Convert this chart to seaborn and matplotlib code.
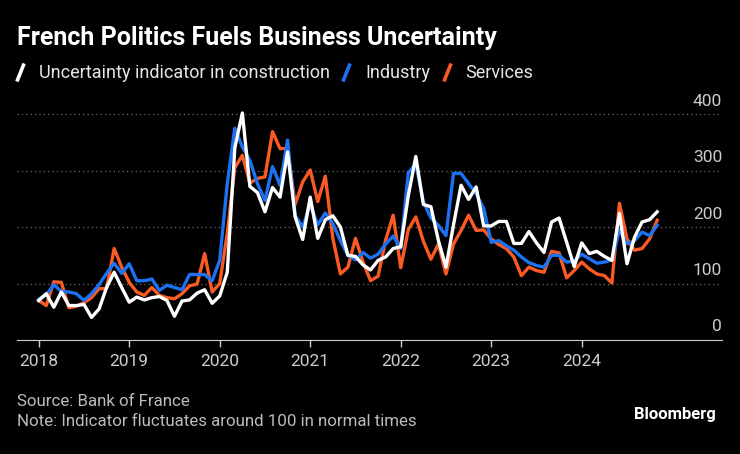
import numpy as np
import pandas as pd
import matplotlib.pyplot as plt
import seaborn as sns
from matplotlib.lines import Line2D
from matplotlib.path import Path
from matplotlib.transforms import ScaledTranslation

# monthly, Jan 2018 -> Nov 2024
months = pd.date_range("2018-01-01", "2024-11-01", freq="MS")

construction = [70, 82, 58, 85, 61, 61, 63, 40, 55, 93, 120, 93,
                67, 76, 71, 75, 77, 70, 42, 69, 71, 83, 89, 65,
                78, 120, 340, 402, 272, 261, 227, 270, 253, 333, 218, 178,
                253, 180, 213, 220, 200, 150, 148, 133, 124, 141, 147, 162,
                165, 255, 325, 240, 236, 176, 129, 204, 274, 249, 271, 202,
                202, 210, 210, 171, 171, 192, 172, 155, 209, 216, 173, 130,
                172, 153, 157, 148, 141, 224, 135, 182, 209, 213, 227]
industry = [72, 80, 98, 86, 85, 82, 70, 82, 98, 118, 136, 118,
            135, 105, 105, 108, 88, 97, 93, 89, 116, 116, 116, 105,
            141, 277, 375, 342, 318, 277, 247, 307, 274, 354, 221, 200,
            240, 204, 225, 206, 176, 150, 142, 155, 145, 152, 170, 184,
            162, 296, 312, 245, 216, 203, 185, 295, 295, 277, 259, 233,
            173, 176, 167, 159, 147, 137, 132, 129, 150, 150, 138, 140,
            152, 144, 136, 138, 142, 195, 170, 176, 191, 185, 203]
services = [70, 61, 103, 102, 57, 60, 66, 75, 91, 91, 162, 129,
            102, 85, 79, 93, 79, 75, 73, 82, 96, 99, 153, 85,
            100, 189, 305, 327, 278, 286, 289, 369, 339, 339, 240, 280,
            301, 245, 290, 180, 117, 129, 180, 138, 105, 113, 177, 221,
            128, 195, 218, 175, 143, 170, 117, 170, 194, 221, 194, 195,
            179, 169, 162, 147, 114, 129, 123, 120, 157, 154, 110, 123,
            138, 126, 117, 114, 101, 242, 179, 159, 162, 179, 212]

SERIES = ["Uncertainty indicator in construction", "Industry", "Services"]
COLORS = {SERIES[0]: "#ffffff", SERIES[1]: "#1c72f2", SERIES[2]: "#fa5b24"}
year_ticks = [2018, 2019, 2020, 2021, 2022, 2023, 2024]
y_ticks = [0, 100, 200, 300, 400]

df = pd.DataFrame({"month": months, SERIES[0]: construction,
                   SERIES[1]: industry, SERIES[2]: services})
df = df.melt(id_vars="month", var_name="series", value_name="value")
df["t"] = df["month"].dt.year + (df["month"].dt.month - 1) / 12

plt.rcParams["font.family"] = ["Roboto", "DejaVu Sans"]

fig = plt.figure(figsize=(7.4, 4.54), dpi=100, facecolor="black")
ax = fig.add_axes([17 / 740, 1 - 340 / 454, 705 / 740, 240 / 454])
ax.set_facecolor("black")

# white on top
sns.lineplot(data=df, x="t", y="value", hue="series", hue_order=SERIES[::-1],
             palette=COLORS, linewidth=2.4, legend=False, ax=ax)

ax.set_xlim(2017.76, 2025.55)
ax.set_ylim(0, 425)
ax.set_xlabel("")
ax.set_ylabel("")

ax.set_yticks(y_ticks)
ax.yaxis.grid(True, color="#707070", linestyle=(0, (1, 2.5)), linewidth=0.9)
ax.xaxis.grid(False)
ax.set_axisbelow(True)
ax.tick_params(axis="y", length=0, labelleft=False)

ax.set_xticks(year_ticks)
ax.set_xticklabels([str(y) for y in year_ticks])
ax.tick_params(axis="x", length=5, width=1, color="#cccccc", labelcolor="#cccccc",
               labelsize=12.5, pad=5)

for s in ["top", "right", "left"]:
    ax.spines[s].set_visible(False)
ax.spines["bottom"].set_color("#cccccc")

off = ScaledTranslation(0, 4 / 72, fig.dpi_scale_trans)
for v in y_ticks:
    ax.text(1.0, v, str(v), transform=ax.get_yaxis_transform() + off,
            ha="right", va="bottom", color="#cccccc", fontsize=12.5)

fig.text(17 / 740, 1 - 38 / 454, "French Politics Fuels Business Uncertainty",
         color="white", fontsize=18, fontweight="bold", va="center")

slash = Path([(-0.4, -1), (0.4, 1)])
handles = [Line2D([], [], color=COLORS[s], marker=slash, markersize=13,
                  markeredgewidth=2.6, linestyle="None") for s in SERIES]
fig.legend(handles, SERIES, loc="center left", bbox_to_anchor=(12 / 740, 1 - 73 / 454),
           ncol=3, frameon=False, handlelength=0.9, handletextpad=0.6,
           columnspacing=0.45, labelcolor="#e6e6e6", fontsize=13, numpoints=1,
           borderpad=0, borderaxespad=0)

fig.text(17 / 740, 1 - 402 / 454, "Source: Bank of France",
         color="#bbbbbb", fontsize=12.2, va="center")
fig.text(17 / 740, 1 - 421 / 454, "Note: Indicator fluctuates around 100 in normal times",
         color="#bbbbbb", fontsize=12.2, va="center")
fig.text(716 / 740, 1 - 415 / 454, "Bloomberg", color="white", fontsize=12,
         fontweight="bold", ha="right", va="center")

fig.savefig("out.png", dpi=100, facecolor="black")
